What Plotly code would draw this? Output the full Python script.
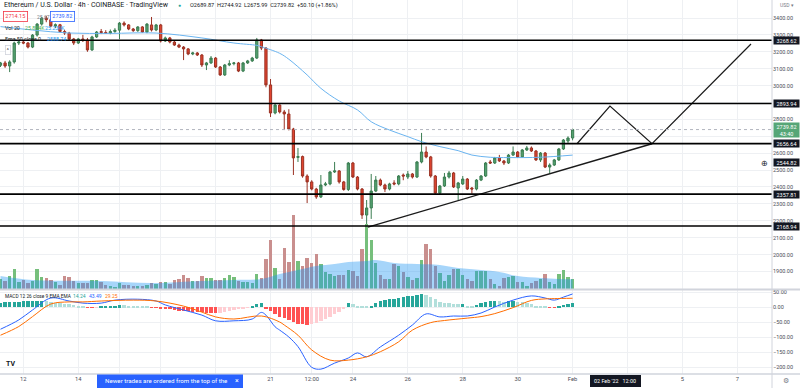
import plotly.graph_objects as go
import pandas as pd

# ---------------- data ----------------
bar_start = "2022-01-11 04:00"
bar_count = 126

open_ = [3120,3134,3116,3140,3252,3258,3252,3228,3299,3364,
         3400,3390,3353,3360,3320,3311,3276,3252,3276,3270,
         3211,3288,3320,3314,3310,3320,3328,3370,3359,3335,
         3325,3347,3317,3359,3329,3359,3264,3282,3258,3240,
         3228,3217,3187,3193,3181,3122,3134,3163,3110,3063,
         3122,3130,3134,3086,3134,3146,3163,3270,3222,3004,
         2838,2885,2844,2832,2743,2575,2580,2465,2430,2388,
         2341,2412,2418,2489,2495,2430,2385,2542,2459,2388,
         2234,2276,2376,2441,2412,2388,2424,2418,2471,2459,
         2477,2459,2548,2607,2578,2465,2364,2406,2459,2483,
         2394,2418,2447,2394,2388,2441,2465,2548,2542,2572,
         2554,2542,2589,2607,2578,2619,2631,2613,2560,2601,
         2518,2530,2560,2625,2672,2689.87]
high = [3140,3146,3150,3260,3265,3266,3258,3305,3370,3405,
        3413,3395,3368,3365,3330,3318,3282,3282,3300,3282,
        3295,3323,3335,3328,3332,3340,3376,3380,3364,3341,
        3352,3352,3370,3406,3365,3365,3290,3288,3264,3248,
        3234,3222,3200,3199,3187,3140,3175,3169,3116,3128,
        3150,3140,3140,3140,3152,3170,3282,3276,3228,3039,
        2895,2890,2856,2860,2750,2631,2586,2475,2440,2395,
        2471,2430,2495,2548,2500,2436,2548,2548,2465,2394,
        2323,2477,2465,2450,2420,2425,2440,2471,2480,2495,
        2483,2554,2720,2640,2584,2471,2412,2483,2495,2489,
        2430,2465,2453,2400,2447,2471,2548,2560,2578,2590,
        2560,2595,2640,2613,2625,2643,2640,2619,2607,2607,
        2540,2566,2631,2684,2700,2744.92]
low = [3110,3105,3080,3130,3240,3245,3220,3222,3290,3355,
       3375,3345,3340,3315,3300,3270,3240,3246,3258,3200,
       3205,3282,3305,3306,3304,3312,3275,3350,3328,3318,
       3318,3312,3310,3320,3322,3255,3258,3250,3235,3222,
       3151,3180,3180,3175,3110,3092,3128,3104,3057,3057,
       3115,3120,3080,3080,3128,3140,3157,3210,2990,2814,
       2830,2835,2737,2735,2471,2548,2455,2305,2380,2330,
       2335,2405,2410,2483,2420,2378,2376,2453,2380,2211,
       2169,2211,2370,2405,2370,2380,2410,2410,2440,2447,
       2450,2453,2540,2570,2455,2355,2355,2400,2450,2394,
       2323,2412,2382,2360,2380,2435,2459,2536,2536,2548,
       2530,2536,2584,2572,2572,2613,2607,2554,2548,2512,
       2483,2524,2554,2619,2660,2675.99]
close = [3134,3116,3140,3252,3258,3252,3228,3299,3364,3400,
         3390,3353,3360,3320,3311,3276,3252,3276,3270,3211,
         3288,3317,3314,3310,3320,3328,3370,3359,3335,3325,
         3347,3317,3364,3329,3359,3264,3282,3258,3240,3228,
         3217,3187,3193,3181,3122,3134,3163,3110,3063,3122,
         3130,3134,3086,3134,3146,3163,3270,3222,3004,2838,
         2885,2844,2832,2743,2572,2580,2465,2430,2388,2341,
         2412,2418,2489,2495,2430,2385,2542,2459,2388,2234,
         2276,2376,2441,2412,2388,2418,2418,2465,2465,2477,
         2459,2548,2607,2578,2465,2364,2406,2459,2483,2400,
         2424,2447,2388,2388,2441,2465,2542,2542,2572,2554,
         2542,2589,2607,2578,2619,2631,2613,2560,2601,2518,
         2530,2560,2625,2678,2690,2739.82]
volume_k = [26.0,20.8,33.8,52.0,18.2,23.4,15.6,20.8,52.0,31.2,
            28.6,23.4,18.2,10.4,33.8,31.2,20.8,15.6,15.6,15.6,
            23.4,23.4,18.2,10.4,7.8,5.2,15.6,10.4,10.4,7.8,
            7.8,7.8,10.4,15.6,13.0,18.2,18.2,13.0,23.4,26.0,
            36.4,28.6,20.8,20.8,33.8,28.6,28.6,23.4,23.4,28.6,
            36.4,31.2,20.8,18.2,18.2,15.6,39.0,28.6,78.0,127.4,
            54.6,26.0,106.6,70.2,192.4,72.8,59.8,80.6,67.6,91.0,
            65.0,44.2,39.0,33.8,36.4,36.4,49.4,46.8,33.8,104.0,
            169.0,127.4,67.6,36.4,26.0,26.0,65.0,59.8,44.2,31.2,
            23.4,28.6,75.4,117.0,104.0,59.8,41.6,20.8,36.4,52.0,
            52.0,36.4,26.0,20.8,46.8,46.8,46.8,26.0,13.0,7.8,
            28.6,31.2,33.8,18.2,18.2,7.8,15.6,20.8,26.0,39.0,
            18.2,13.0,39.0,49.4,31.2,25.854]
macd_hist = [15,16,17,17.5,18,18.5,19,19.5,20,20.5,
             19,17,15,13,11,9,7,
             5,2,-2,-3,-1,
             1,2.5,4,5,6.5,6,4,3,2,1,0.5,
             -1,-1.5,
             -4,-6,-8,-10,-12,-13,-14,-15,-16,-18,-19,-20,-21,
             -19,-17,-14,-11,-8,-5,-2,
             5,10,14,
             -4,-14,-24,-32,-38,-44,-50,-55,-58,-60,
             -57,-53,-47,-40,-32,-24,-16,-8,
             12,11,3,1.5,0.5,
             5,14,20,24,26,28,31,33,36,38,41,43,
             40,34,26,18,15,12,10,9,10,3,2,
             7,12,17,20,21,20,18,20,21,
             17,16,12,9,5,2,0.5,
             -2,-2.5,
             1,8,11,14.24]

ema_bar = [0,7,15,24,34,44,51,56,57,61,63,67,70,74,78,81,85,89,92,96,100,103,107,111,118,125]
ema_val = [3349,3329,3311,3309,3311,3282,3252,3238,3230,3191,3156,3063,2984,2909,2856,
           2786,2737,2698,2668,2639,2615,2589,2576,2574,2576,2588.74]

macd_bar = [0,4,7,11,15,18,22,25,30,34,36,40,44,47,51,55,57,58,60,61,63,65,68,70,73,
            76,78,80,83,87,90,93,96,99,102,105,108,112,116,119,121,123,125]
macd_val = [-74,-43,-10,30,20,13,13,23,26,20,7,-10,-27,-46,-46,-40,-18,-27,-66,-77,-100,
            -132,-201,-207,-187,-170,-153,-166,-133,-94,-60,-23,-33,-30,-30,-20,0,23,37,
            30,23,33,43.49]
signal_bar = [0,4,7,11,15,18,22,29,34,40,44,47,51,57,61,62,65,68,72,76,80,83,87,90,94,
              97,102,105,108,112,116,119,121,125]
signal_val = [-94,-65,-32,10,17,17,20,23,20,3,-17,-33,-40,-30,-50,-60,-94,-143,-177,-177,
              -166,-149,-116,-77,-52,-45,-37,-32,-22,-2,22,27,28,29.25]

vol_ma_bar = [0,7,22,33,44,51,57,61,65,69,73,76,80,82,86,91,96,100,105,109,113,118,122,125]
vol_ma_val = [33.8,23.4,20.8,15.6,20.8,23.4,26.0,39.0,49.4,59.8,65.0,70.2,72.8,75.4,67.6,
              65.0,62.4,54.6,49.4,44.2,33.8,28.6,26.0,25.234]

level_prices = [3268.62, 2893.94, 2656.64, 2357.81, 2168.94]
last_price = 2739.82
crosshair_price = 2544.82
trend_time = ["2022-01-24 13:10", "2022-02-03 21:25"]
trend_price = [2163, 2656]
path_time = ["2022-02-01 03:50", "2022-02-02 08:40", "2022-02-03 21:25", "2022-02-07 11:55"]
path_price = [2656, 2879, 2656, 3246]

price_ticks = list(range(1900, 3500, 100))
price_tick_hidden = [2700, 2900]          # covered by the price-label boxes
macd_ticks = [-200, -150, -100, -50, 0, 50]
time_tick_vals = ["2022-01-12", "2022-01-14", "2022-01-15 12:00", "2022-01-17", "2022-01-19",
                  "2022-01-21", "2022-01-22 12:00", "2022-01-24", "2022-01-26", "2022-01-28",
                  "2022-01-30", "2022-02-01", "2022-02-03", "2022-02-05", "2022-02-07"]
# labels covered by the popup / crosshair date box are left blank
time_tick_text = ["12", "14", "", "", "", "21", "12:00", "24", "26", "28", "30",
                  "Feb", "", "5", "7"]
x_range = ["2022-01-11 03:34", "2022-02-08 06:17"]

# ---------------- figure ----------------
times = pd.date_range(bar_start, periods=bar_count, freq="4h")
W, H = 772, 374


def xp(x):
    return x / W


def yp(y):
    return (H - y) / H


FONT = "Roboto, Arial, sans-serif"
GRID = "#eef0f3"
fig = go.Figure()

# candles
fig.add_trace(go.Candlestick(
    x=times, open=open_, high=high, low=low, close=close,
    increasing=dict(fillcolor="#53a270", line=dict(color="#3b7d52", width=1)),
    decreasing=dict(fillcolor="#e0442f", line=dict(color="#9a3224", width=1)),
    whiskerwidth=0, xaxis="x", yaxis="y", showlegend=False, hoverinfo="skip"))

# EMA 50
fig.add_trace(go.Scatter(x=times[ema_bar], y=ema_val, mode="lines",
                         line=dict(color="#6ab4f0", width=1, shape="spline"),
                         xaxis="x", yaxis="y", hoverinfo="skip"))

# trend line and projected path
fig.add_trace(go.Scatter(x=pd.to_datetime(trend_time), y=trend_price, mode="lines",
                         line=dict(color="#1a1a1a", width=1.4), xaxis="x", yaxis="y",
                         hoverinfo="skip"))
fig.add_trace(go.Scatter(x=pd.to_datetime(path_time), y=path_price, mode="lines",
                         line=dict(color="#1a1a1a", width=1.2), xaxis="x", yaxis="y",
                         hoverinfo="skip"))

# volume + volume MA (overlay on price pane)
vol_colors = ["#76bf7c" if c >= o else "#c98f8e" for o, c in zip(open_, close)]
fig.add_trace(go.Bar(x=times, y=volume_k, marker=dict(color=vol_colors, line=dict(width=0)),
                     width=4 * 3600 * 1000 * 0.74, xaxis="x", yaxis="y3", hoverinfo="skip"))
fig.add_trace(go.Scatter(x=times[vol_ma_bar], y=vol_ma_val, mode="lines",
                         line=dict(width=0, shape="spline", color="rgba(33,150,243,0.4)"),
                         fill="tozeroy", fillcolor="rgba(33,150,243,0.40)",
                         xaxis="x", yaxis="y3", hoverinfo="skip"))

# MACD
hist_colors = []
prev = 0
for v in macd_hist:
    if v >= 0:
        hist_colors.append("#26a69a" if v >= prev else "#b2dfdb")
    else:
        hist_colors.append("#ff5252" if v <= prev else "#ffcdd2")
    prev = v
fig.add_trace(go.Bar(x=times, y=macd_hist, marker=dict(color=hist_colors, line=dict(width=0)),
                     width=4 * 3600 * 1000 * 0.74, xaxis="x2", yaxis="y2", hoverinfo="skip"))
fig.add_trace(go.Scatter(x=times[macd_bar], y=macd_val, mode="lines",
                         line=dict(color="#2962ff", width=1, shape="spline"),
                         xaxis="x2", yaxis="y2", hoverinfo="skip"))
fig.add_trace(go.Scatter(x=times[signal_bar], y=signal_val, mode="lines",
                         line=dict(color="#ff6d00", width=1, shape="spline"),
                         xaxis="x2", yaxis="y2", hoverinfo="skip"))

# ---------------- shapes ----------------
shapes = []
for lv in level_prices:
    shapes.append(dict(type="line", xref="paper", yref="y", x0=0, x1=1, y0=lv, y1=lv,
                       line=dict(color="#000000", width=1.6)))
shapes.append(dict(type="line", xref="paper", yref="y", x0=0, x1=1, y0=last_price, y1=last_price,
                   line=dict(color="#b2b5be", width=1, dash="dot")))
# pane separators
shapes.append(dict(type="line", xref="paper", yref="paper", x0=0, x1=800 / W,
                   y0=yp(289.5), y1=yp(289.5), line=dict(color="#d1d4dc", width=2)))
shapes.append(dict(type="line", xref="paper", yref="paper", x0=0, x1=800 / W,
                   y0=yp(374), y1=yp(374), line=dict(color="#d1d4dc", width=1.5)))
shapes.append(dict(type="line", xref="paper", yref="paper", x0=1, x1=1,
                   y0=yp(388), y1=1, line=dict(color="#d1d4dc", width=1)))
# popup and crosshair date box
shapes.append(dict(type="rect", xref="paper", yref="paper", x0=xp(97), x1=xp(243),
                   y0=yp(388), y1=yp(374.5), fillcolor="#2962ff", line=dict(width=0)))
shapes.append(dict(type="rect", xref="paper", yref="paper", x0=xp(590), x1=xp(641),
                   y0=yp(387), y1=yp(375), fillcolor="#131722", line=dict(width=0)))

# ---------------- annotations ----------------
ann = []


def txt(x, y, s, size=5.5, color="#131722", anchor="left", **kw):
    d = dict(xref="paper", yref="paper", x=xp(x), y=yp(y), text=s, showarrow=False,
             xanchor=anchor, yanchor="middle", font=dict(family=FONT, size=size, color=color))
    d.update(kw)
    ann.append(d)


# header
txt(2, 5, "Ethereum / U.S. Dollar · 4h · COINBASE · TradingView", size=7)
txt(176, 5, "●", size=5, color="#26a69a")
txt(188, 5, "O2689.87  H2744.92  L2675.99  C2739.82  +50.10 (+1.86%)", size=5.6)
txt(3, 17, "2714.15", size=5.5, color="#f23645", bordercolor="#f23645", borderwidth=0.8,
    borderpad=1.5, bgcolor="white")
txt(35, 17, "25.67", size=5, color="#787b86")
txt(50, 17, "2739.82", size=5.5, color="#2962ff", bordercolor="#2962ff", borderwidth=0.8,
    borderpad=1.5, bgcolor="white")
txt(3, 28, "Vol 20", size=5.3)
txt(23, 28, "25.854K", size=5.3, color="#4caf50")
txt(43, 28, "25.234K", size=5.3, color="#2196f3")
txt(3, 39, "Ema 50 close 0", size=5.3)
txt(45, 39, "2588.74", size=5.3, color="#2196f3")
txt(5, 50, "^", size=5, color="#131722", bordercolor="#d1d4dc", borderwidth=0.8,
    borderpad=1, bgcolor="white")
# MACD legend
txt(3, 296, "MACD 12 26 close 9 EMA EMA", size=4.8)
txt(71, 296, "14.24", size=5, color="#26a69a")
txt(87, 296, "43.49", size=5, color="#2962ff")
txt(103, 296, "29.25", size=5, color="#ff6d00")


# right axis labels
def axis_box(price, text, bg="#131722", fg="white"):
    ann.append(dict(xref="paper", yref="y", x=1, y=price, text=text, showarrow=False,
                    xanchor="left", yanchor="middle", xshift=1, width=24, align="center",
                    bgcolor=bg, borderpad=0.5,
                    font=dict(family=FONT, size=5.5, color=fg)))


for lv in level_prices:
    axis_box(lv, f"{lv:.2f}")
axis_box(crosshair_price, f"{crosshair_price:.2f}")
axis_box(last_price, "2739.82<br>43:40", bg="#56a677")
txt(764, 163, "⊕", size=8, color="#131722", anchor="center")
txt(787, 5, "USD ▾", size=5, color="#787b86", anchor="center")

# bottom strip
txt(103, 381, "Newer trades are ordered from the top of the", size=6.2, color="white")
txt(237, 381, "×", size=7, color="white", anchor="center")
txt(615, 381, "02 Feb '22   12:00", size=5.4, color="white", anchor="center")
txt(786, 381, "⚙", size=7, color="#787b86", anchor="center")
txt(10, 364, "<b>TV</b>", size=7, color="#131722", anchor="center")

fig.update_layout(
    width=800, height=388, margin=dict(l=0, r=28, t=0, b=14),
    paper_bgcolor="white", plot_bgcolor="white", showlegend=False, hovermode=False,
    font=dict(family=FONT, size=5.5, color="#4a4d57"),
    bargap=0,
    xaxis=dict(type="date", range=x_range, domain=[0, 1], anchor="y",
               rangeslider=dict(visible=False), showticklabels=False,
               tickvals=time_tick_vals, gridcolor=GRID, showline=False, zeroline=False,
               ticks=""),
    xaxis2=dict(type="date", matches="x", anchor="y2", domain=[0, 1],
                tickvals=time_tick_vals, ticktext=time_tick_text, gridcolor=GRID,
                showline=False, zeroline=False, ticks="", tickfont=dict(size=5.8, color="#4a4d57")),
    yaxis=dict(domain=[(H - 289) / H, 1], range=[1796.4, 3506.5], side="right",
               tickvals=price_ticks,
               ticktext=["" if v in price_tick_hidden else f"{v:.2f}" for v in price_ticks],
               gridcolor=GRID, zeroline=False, ticks="", showline=False,
               tickfont=dict(size=5.5, color="#4a4d57")),
    yaxis2=dict(domain=[0, (H - 290) / H], range=[-223.3, 56.7], side="right",
                tickvals=macd_ticks,
                ticktext=[f"{v:.2f}".replace("-", "−") for v in macd_ticks],
                gridcolor=GRID, zeroline=False, ticks="", showline=False,
                tickfont=dict(size=5.5, color="#4a4d57")),
    yaxis3=dict(overlaying="y", range=[0, 289 * 2.6], visible=False),
    shapes=shapes, annotations=ann,
)

fig.write_html("out.html", config={"displayModeBar": False},
               post_script="document.body.style.margin='0';")
